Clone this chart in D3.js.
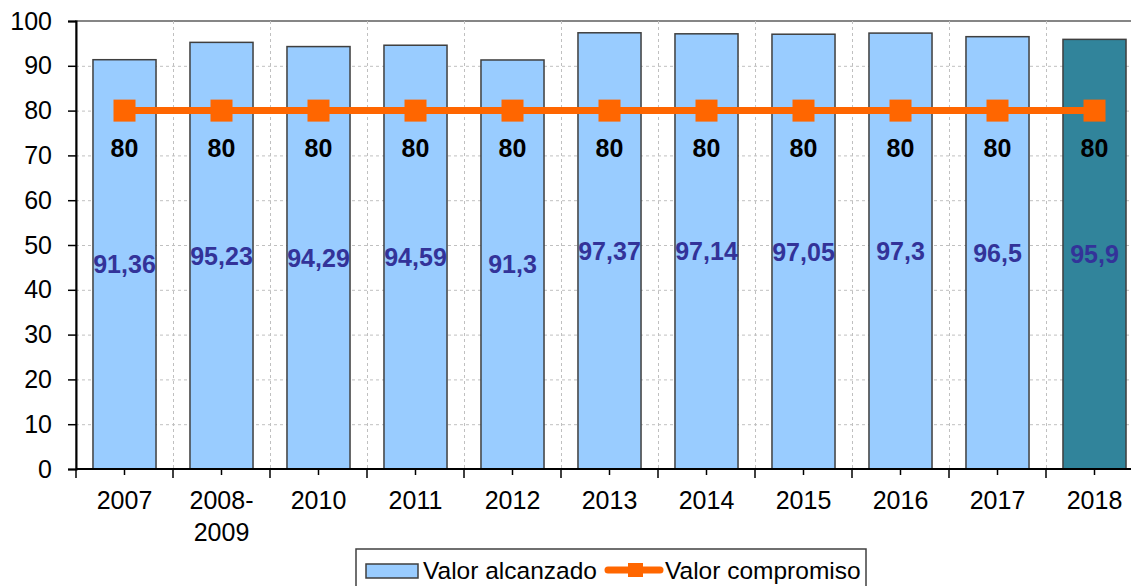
<!DOCTYPE html>
<html><head><meta charset="utf-8">
<script src="https://cdn.jsdelivr.net/npm/d3@7"></script>
<style>body{margin:0;background:#fff;}svg{display:block;font-family:"Liberation Sans",Arial,sans-serif;}</style>
</head><body>
<svg id="chart" width="1131" height="586"></svg>
<script>
const categories = ["2007","2008-\n2009","2010","2011","2012","2013","2014","2015","2016","2017","2018"];
const valorAlcanzado = [91.36,95.23,94.29,94.59,91.3,97.37,97.14,97.05,97.3,96.5,95.9];
const valorCompromiso = [80,80,80,80,80,80,80,80,80,80,80];
const alcanzadoLabels = ["91,36","95,23","94,29","94,59","91,3","97,37","97,14","97,05","97,3","96,5","95,9"];
const yTicks = [0,10,20,30,40,50,60,70,80,90,100];
const highlightIndex = 10;

const FS = 25;
const svg = d3.select("#chart");
const pL = 76, pR = 1143, pT = 21, pB = 469;
const x = d3.scaleBand().domain(d3.range(categories.length)).range([pL, pR]).paddingInner(0.35).paddingOuter(0.175);
const xb = d3.scaleBand().domain(d3.range(categories.length)).range([pL, pR]);
const y = d3.scaleLinear().domain([0,100]).range([pB, pT]);

// plot border
svg.append("rect").attr("x", pL).attr("y", pT).attr("width", pR-pL).attr("height", pB-pT)
  .attr("fill","none").attr("stroke","#868686").attr("stroke-width",2);

// gridlines
svg.append("g").selectAll("line").data(yTicks.slice(1,-1)).join("line")
  .attr("x1", pL).attr("x2", pR).attr("y1", d=>y(d)+0.5).attr("y2", d=>y(d)+0.5)
  .attr("stroke","#c0c0c0").attr("stroke-dasharray","3,3");
svg.append("g").selectAll("line").data(d3.range(1,categories.length)).join("line")
  .attr("y1", pT).attr("y2", pB).attr("x1", d=>xb(d)+0.5).attr("x2", d=>xb(d)+0.5)
  .attr("stroke","#c0c0c0").attr("stroke-dasharray","3,3");

// bars
svg.append("g").selectAll("rect").data(valorAlcanzado).join("rect")
  .attr("x", (d,i)=>x(i)).attr("width", x.bandwidth())
  .attr("y", d=>y(d)).attr("height", d=>pB - y(d))
  .attr("fill", (d,i)=> i===highlightIndex ? "#31849B" : "#99CCFF")
  .attr("stroke","#3f3f3f").attr("stroke-width",1.5);

// bar value labels
svg.append("g").selectAll("text").data(valorAlcanzado).join("text")
  .attr("x", (d,i)=>x(i)+x.bandwidth()/2).attr("y", d=>y(d/2))
  .attr("text-anchor","middle").attr("dominant-baseline","central")
  .attr("font-size",FS).attr("font-weight","bold").attr("fill","#333399")
  .text((d,i)=>alcanzadoLabels[i]);

// line
const cx = i => x(i)+x.bandwidth()/2;
svg.append("path").datum(valorCompromiso)
  .attr("d", d3.line().x((d,i)=>cx(i)).y(d=>y(d)))
  .attr("fill","none").attr("stroke","#FF6600").attr("stroke-width",7);
svg.append("g").selectAll("rect").data(valorCompromiso).join("rect")
  .attr("x",(d,i)=>cx(i)-11).attr("y",d=>y(d)-11).attr("width",22).attr("height",22)
  .attr("fill","#FF6600");
svg.append("g").selectAll("text").data(valorCompromiso).join("text")
  .attr("x",(d,i)=>cx(i)).attr("y",d=>y(d)+37)
  .attr("text-anchor","middle").attr("dominant-baseline","central")
  .attr("font-size",FS).attr("font-weight","bold").attr("fill","#000")
  .text(d=>d);

// y axis
const yAxis = svg.append("g").attr("transform",`translate(${pL},0)`)
  .call(d3.axisLeft(y).tickValues(yTicks).tickSize(8).tickPadding(16).tickFormat(d3.format("d")));
yAxis.select(".domain").attr("stroke","#000").attr("stroke-width",2);
yAxis.selectAll(".tick line").attr("stroke","#000").attr("stroke-width",1.5);
yAxis.selectAll("text").attr("font-size",FS).attr("fill","#000").attr("font-family","Liberation Sans, Arial, sans-serif");

// x axis
const xg = svg.append("g").attr("transform",`translate(0,${pB})`);
xg.append("line").attr("x1",pL).attr("x2",pR).attr("stroke","#000").attr("stroke-width",2);
xg.selectAll("line.maj").data(d3.range(categories.length+1)).join("line").attr("class","maj")
  .attr("x1", d=> d<categories.length ? xb(d) : pR).attr("x2", d=> d<categories.length ? xb(d) : pR)
  .attr("y1",0).attr("y2",9).attr("stroke","#000").attr("stroke-width",1.5);
xg.selectAll("line.min").data(d3.range(categories.length)).join("line").attr("class","min")
  .attr("x1", d=>xb(d)+xb.bandwidth()/2).attr("x2", d=>xb(d)+xb.bandwidth()/2)
  .attr("y1",0).attr("y2",6).attr("stroke","#000").attr("stroke-width",1.5);
const xl = xg.selectAll("text").data(categories).join("text")
  .attr("x",(d,i)=>xb(i)+xb.bandwidth()/2).attr("y",40)
  .attr("text-anchor","middle").attr("font-size",FS).attr("fill","#000");
xl.each(function(d){
  const lines = d.split("\n");
  const t = d3.select(this);
  lines.forEach((l,k)=>{
    t.append("tspan").attr("x", t.attr("x")).attr("dy", k===0?0:32).text(l);
  });
});

// legend
const LFS = 24.5;
const lg = svg.append("g");
lg.append("rect").attr("x",356).attr("y",549).attr("width",510).attr("height",50)
  .attr("fill","#fff").attr("stroke","#404040").attr("stroke-width",1.5);
lg.append("rect").attr("x",366).attr("y",564).attr("width",52).attr("height",14)
  .attr("fill","#99CCFF").attr("stroke","#3f3f3f").attr("stroke-width",1.5);
lg.append("text").attr("x",423).attr("y",579).attr("font-size",LFS).attr("fill","#000").text("Valor alcanzado");
lg.append("line").attr("x1",608).attr("x2",660).attr("y1",570).attr("y2",570)
  .attr("stroke","#FF6600").attr("stroke-width",7).attr("stroke-linecap","round");
lg.append("rect").attr("x",628).attr("y",563).attr("width",15).attr("height",14).attr("fill","#FF6600");
lg.append("text").attr("x",665).attr("y",579).attr("font-size",LFS).attr("fill","#000").text("Valor compromiso");
</script>
</body></html>
